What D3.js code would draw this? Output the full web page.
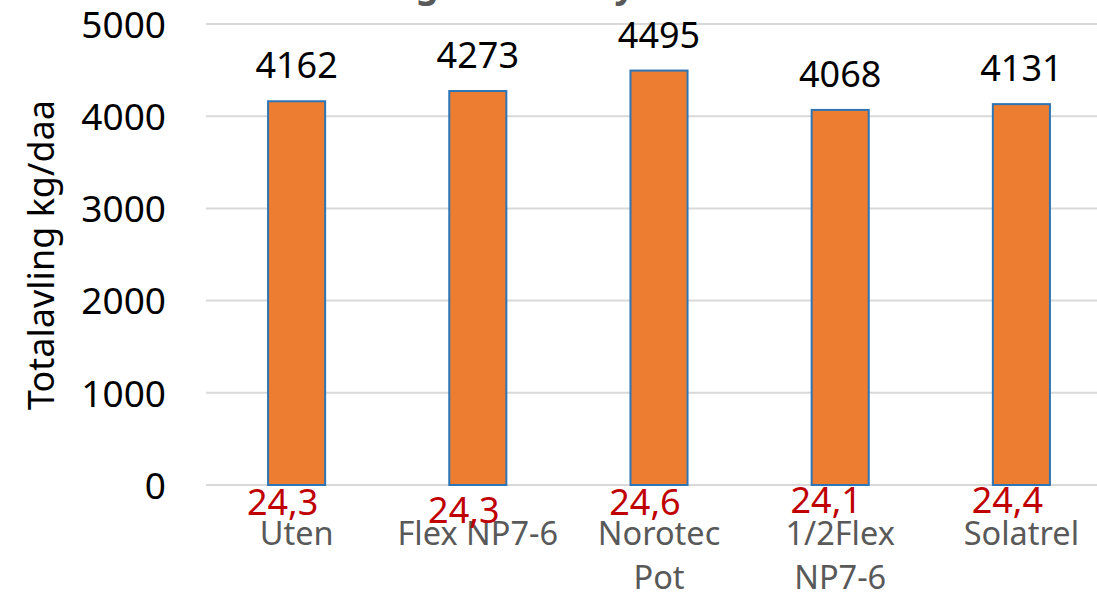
<!DOCTYPE html>
<html>
<head>
<meta charset="utf-8">
<script src="https://cdn.jsdelivr.net/npm/d3@7"></script>
<style>
  body { margin: 0; background: #fff; overflow: hidden; }
  svg { display: block; font-family: "Noto Sans", "Open Sans", sans-serif; }
</style>
</head>
<body>
<div id="chart"></div>
<script>
(function () {

    const categories = [['Uten'], ['Flex NP7-6'], ['Norotec', 'Pot'], ['1/2Flex', 'NP7-6'], ['Solatrel']];
    const totalYield = [4162, 4273, 4495, 4068, 4131];
    const dryMatter = ['24,3', '24,3', '24,6', '24,1', '24,4'];
    const yTicks = [0, 1000, 2000, 3000, 4000, 5000];

    // little hand-placed offsets of the red text boxes (px)
    const dmNudge = [0, 8, 0, -2, -2];

    const width = 1097;
    const height = 593;

    const svg = d3.select('#chart')
        .append('svg')
        .attr('width', width)
        .attr('height', height);

    const x = d3.scaleBand()
        .domain(d3.range(categories.length))
        .range([206, 1112])
        .paddingInner(0.685)
        .paddingOuter(0.3425);

    const y = d3.scaleLinear()
        .domain([0, 5000])
        .range([485, 24]);

    // title, mostly cut off by the top edge
    svg.append('text')
        .attr('x', 240)
        .attr('y', -3)
        .attr('font-size', 36)
        .attr('font-weight', 'bold')
        .attr('fill', '#595959')
        .text('Totalavling i 2019 – Hylla');

    // gridlines
    svg.append('g')
        .selectAll('line')
        .data(yTicks)
        .join('line')
        .attr('x1', 206)
        .attr('x2', width)
        .attr('y1', d => y(d))
        .attr('y2', d => y(d))
        .attr('stroke', '#d9d9d9')
        .attr('stroke-width', 2);

    // y axis labels
    const yAxis = svg.append('g')
        .attr('transform', 'translate(166,0)')
        .call(d3.axisLeft(y).tickValues(yTicks).tickFormat(d3.format('d')).tickSize(0).tickPadding(0));
    yAxis.select('.domain').remove();
    yAxis.selectAll('text')
        .attr('font-family', '"Noto Sans", sans-serif')
        .attr('font-size', 37)
        .attr('fill', '#000')
        .attr('dy', '0.36em');

    svg.append('text')
        .attr('transform', 'translate(54,255) rotate(-90)')
        .attr('text-anchor', 'middle')
        .attr('font-size', 36)
        .attr('fill', '#000')
        .text('Totalavling kg/daa');

    // bars
    svg.append('g')
        .selectAll('rect')
        .data(totalYield)
        .join('rect')
        .attr('x', (d, i) => x(i))
        .attr('y', d => y(d))
        .attr('width', x.bandwidth())
        .attr('height', d => y(0) - y(d))
        .attr('fill', '#ed7d31')
        .attr('stroke', '#2e75b6')
        .attr('stroke-width', 2);

    // value labels
    svg.append('g')
        .selectAll('text')
        .data(totalYield)
        .join('text')
        .attr('x', (d, i) => x(i) + x.bandwidth() / 2)
        .attr('y', d => y(d) - 23)
        .attr('text-anchor', 'middle')
        .attr('font-size', 36)
        .attr('fill', '#000')
        .text(d => d);

    // category labels
    const cat = svg.append('g')
        .selectAll('text')
        .data(categories)
        .join('text')
        .attr('x', (d, i) => x(i) + x.bandwidth() / 2)
        .attr('y', 545)
        .attr('text-anchor', 'middle')
        .attr('font-size', 32.5)
        .attr('fill', '#595959');
    cat.selectAll('tspan')
        .data(d => d)
        .join('tspan')
        .attr('x', function () { return d3.select(this.parentNode).attr('x'); })
        .attr('dy', (d, i) => i === 0 ? 0 : 44)
        .text(d => d);

    // dry matter %, red text boxes
    svg.append('g')
        .selectAll('text')
        .data(dryMatter)
        .join('text')
        .attr('x', (d, i) => x(i) + x.bandwidth() / 2 - 14)
        .attr('y', (d, i) => 515 + dmNudge[i])
        .attr('text-anchor', 'middle')
        .attr('font-size', 36)
        .attr('fill', '#c00000')
        .text(d => d);

})();
</script>
</body>
</html>
